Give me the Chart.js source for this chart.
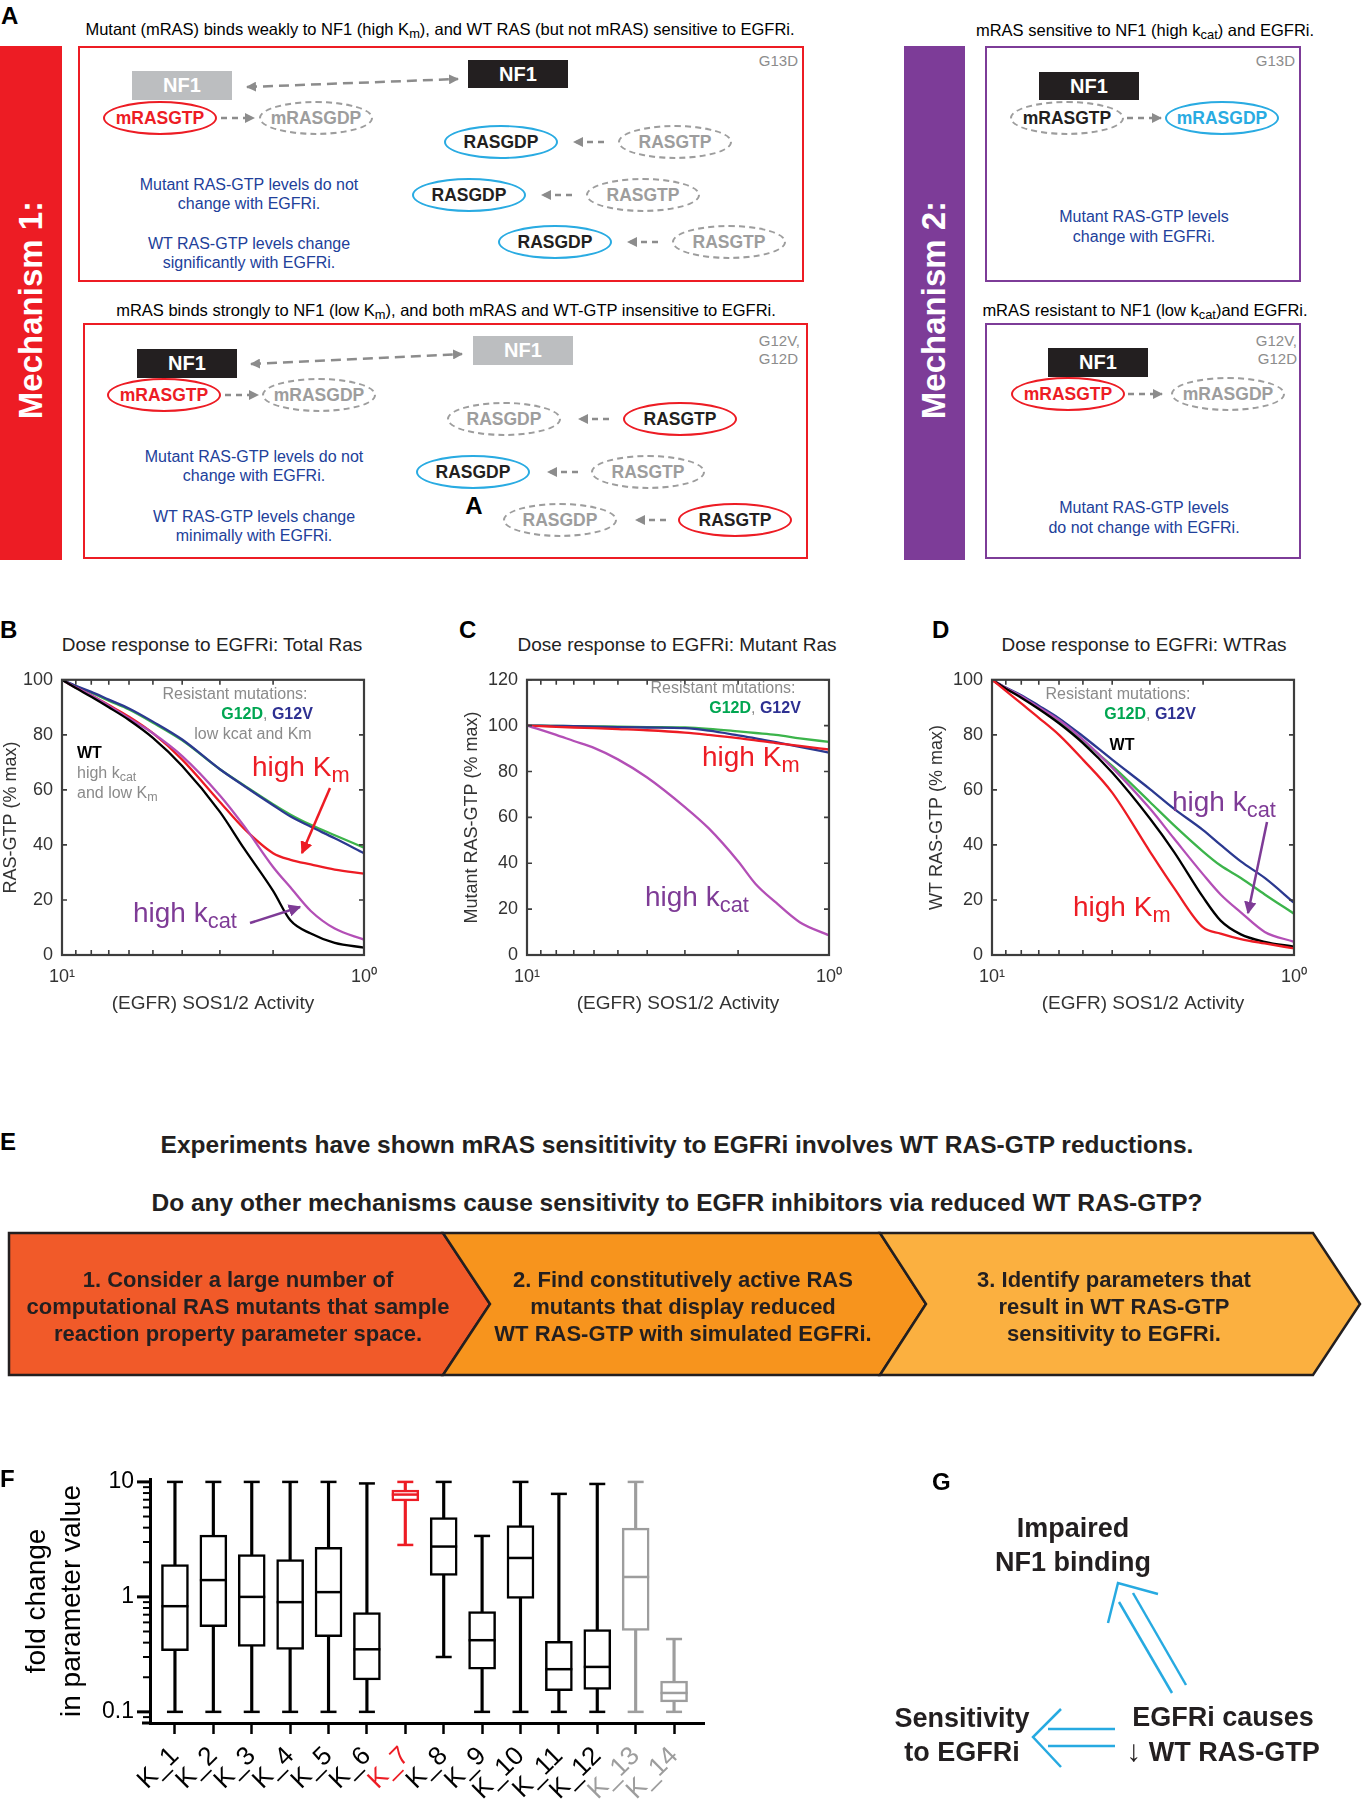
<!DOCTYPE html>
<html><head><meta charset="utf-8">
<title>RAS EGFRi figure</title>
<script src="https://cdn.jsdelivr.net/npm/chart.js@4.4.1/dist/chart.umd.min.js"></script>
<style>
html,body{margin:0;padding:0;background:#fff;}
#page{position:relative;width:1363px;height:1800px;overflow:hidden;font-family:'Liberation Sans',Arial,Helvetica,sans-serif;color:#000;}
.c{position:absolute;white-space:nowrap;transform:translate(-50%,-50%);line-height:1.15;text-align:center;}
.l{position:absolute;white-space:nowrap;transform:translate(0,-50%);line-height:1.15;}
.r{position:absolute;white-space:nowrap;transform:translate(-100%,-50%);line-height:1.15;text-align:right;}
.lab{position:absolute;font-weight:bold;font-size:24px;line-height:1;}
.frame{position:absolute;box-sizing:border-box;border:2.5px solid;}
.bar{position:absolute;}
.mech{position:absolute;color:#fff;font-weight:bold;font-size:33px;white-space:nowrap;transform:translate(-50%,-50%) rotate(-90deg);}
.nf{position:absolute;display:flex;align-items:center;justify-content:center;color:#fff;font-weight:bold;font-size:20px;}
.ell{position:absolute;box-sizing:border-box;border-radius:50%;display:flex;align-items:center;justify-content:center;font-weight:bold;font-size:17.5px;transform:translate(-50%,-50%);width:114px;height:34px;color:#231f20;}
.dash{border:2.5px dashed #9d9d9d;color:#9d9d9d;}
.bl{border:2.5px solid #29abe2;}
.rd{border:2.5px solid #ed1c24;}
.cap{font-size:16.5px;}
.blue{color:#21409a;font-size:16px;}
.ann{font-size:16px;}
.gr{color:#8a8a8a;}
.big{font-size:28px;}
sub{font-size:0.78em;vertical-align:-0.28em;line-height:0;}
.cb{position:absolute;}
.etx{font-weight:bold;font-size:22px;line-height:27px;}
.gtx{font-weight:bold;font-size:27px;line-height:34px;color:#231f20;}
</style></head>
<body><div id="page">

<!-- ============ Panel A ============ -->
<div class="lab" style="left:1px;top:4px;">A</div>
<div class="c cap" style="left:440px;top:29px;">Mutant (mRAS) binds weakly to NF1 (high K<sub>m</sub>), and WT RAS (but not mRAS) sensitive to EGFRi.</div>
<div class="bar" style="left:0;top:46px;width:62px;height:514px;background:#ed1c24;"></div>
<div class="mech" style="left:31px;top:310px;">Mechanism 1:</div>
<div class="frame" style="left:78px;top:46px;width:726px;height:236px;border-color:#ed1c24;"></div>
<div class="r" style="left:798px;top:61px;color:#8c8c8c;font-size:15px;">G13D</div>
<div class="nf" style="left:132px;top:71px;width:100px;height:29px;background:#bcbec0;">NF1</div>
<div class="nf" style="left:468px;top:60px;width:100px;height:28px;background:#231f20;">NF1</div>
<div class="ell rd" style="left:160px;top:118px;color:#ed1c24;">mRASGTP</div>
<div class="ell dash" style="left:316px;top:118px;">mRASGDP</div>
<div class="ell bl" style="left:501px;top:142px;">RASGDP</div>
<div class="ell dash" style="left:675px;top:142px;">RASGTP</div>
<div class="ell bl" style="left:469px;top:195px;">RASGDP</div>
<div class="ell dash" style="left:643px;top:195px;">RASGTP</div>
<div class="ell bl" style="left:555px;top:242px;">RASGDP</div>
<div class="ell dash" style="left:729px;top:242px;">RASGTP</div>
<div class="c blue" style="left:249px;top:194px;line-height:19px;">Mutant RAS-GTP levels do not<br>change with EGFRi.</div>
<div class="c blue" style="left:249px;top:253px;line-height:19px;">WT RAS-GTP levels change<br>significantly with EGFRi.</div>

<div class="c cap" style="left:446px;top:310px;">mRAS binds strongly to NF1 (low K<sub>m</sub>), and both mRAS and WT-GTP insensitive to EGFRi.</div>
<div class="frame" style="left:83px;top:323px;width:725px;height:236px;border-color:#ed1c24;"></div>
<div class="r" style="left:800px;top:350px;color:#8c8c8c;font-size:15px;line-height:18px;text-align:left;">G12V,<br>G12D</div>
<div class="nf" style="left:137px;top:349px;width:100px;height:29px;background:#231f20;">NF1</div>
<div class="nf" style="left:473px;top:336px;width:100px;height:29px;background:#bcbec0;">NF1</div>
<div class="ell rd" style="left:164px;top:395px;color:#ed1c24;">mRASGTP</div>
<div class="ell dash" style="left:319px;top:395px;">mRASGDP</div>
<div class="ell dash" style="left:504px;top:419px;">RASGDP</div>
<div class="ell rd" style="left:680px;top:419px;">RASGTP</div>
<div class="ell bl" style="left:473px;top:472px;">RASGDP</div>
<div class="ell dash" style="left:648px;top:472px;">RASGTP</div>
<div class="c" style="left:474px;top:506px;font-weight:bold;font-size:24px;">A</div>
<div class="ell dash" style="left:560px;top:520px;">RASGDP</div>
<div class="ell rd" style="left:735px;top:520px;">RASGTP</div>
<div class="c blue" style="left:254px;top:466px;line-height:19px;">Mutant RAS-GTP levels do not<br>change with EGFRi.</div>
<div class="c blue" style="left:254px;top:526px;line-height:19px;">WT RAS-GTP levels change<br>minimally with EGFRi.</div>

<div class="c cap" style="left:1145px;top:30px;">mRAS sensitive to NF1 (high k<sub>cat</sub>) and EGFRi.</div>
<div class="bar" style="left:904px;top:46px;width:61px;height:514px;background:#7d3c98;"></div>
<div class="mech" style="left:934px;top:310px;">Mechanism 2:</div>
<div class="frame" style="left:985px;top:46px;width:316px;height:236px;border-color:#7d3c98;"></div>
<div class="r" style="left:1295px;top:61px;color:#8c8c8c;font-size:15px;">G13D</div>
<div class="nf" style="left:1039px;top:72px;width:100px;height:28px;background:#231f20;">NF1</div>
<div class="ell dash" style="left:1067px;top:118px;color:#231f20;">mRASGTP</div>
<div class="ell bl" style="left:1222px;top:118px;color:#29abe2;">mRASGDP</div>
<div class="c blue" style="left:1144px;top:227px;line-height:20px;">Mutant RAS-GTP levels<br>change with EGFRi.</div>

<div class="c cap" style="left:1145px;top:310px;">mRAS resistant to NF1 (low k<sub>cat</sub>)and EGFRi.</div>
<div class="frame" style="left:985px;top:323px;width:316px;height:236px;border-color:#7d3c98;"></div>
<div class="r" style="left:1297px;top:350px;color:#8c8c8c;font-size:15px;line-height:18px;">G12V,<br>G12D</div>
<div class="nf" style="left:1048px;top:348px;width:100px;height:29px;background:#231f20;">NF1</div>
<div class="ell rd" style="left:1068px;top:394px;color:#ed1c24;">mRASGTP</div>
<div class="ell dash" style="left:1228px;top:394px;">mRASGDP</div>
<div class="c blue" style="left:1144px;top:518px;line-height:20px;">Mutant RAS-GTP levels<br>do not change with EGFRi.</div>

<!-- ============ Panels B, C, D ============ -->
<div class="lab" style="left:0;top:618px;">B</div>
<div class="lab" style="left:459px;top:618px;">C</div>
<div class="lab" style="left:932px;top:618px;">D</div>
<div class="c" style="left:212px;top:645px;font-size:19px;color:#222;">Dose response to EGFRi: Total Ras</div>
<div class="c" style="left:677px;top:645px;font-size:19px;color:#222;">Dose response to EGFRi: Mutant Ras</div>
<div class="c" style="left:1144px;top:645px;font-size:19px;color:#222;">Dose response to EGFRi: WTRas</div>

<div class="cb" style="left:0;top:660px;width:400px;height:360px;"><canvas id="chartB" width="400" height="360"></canvas></div>
<div class="cb" style="left:460px;top:660px;width:400px;height:360px;"><canvas id="chartC" width="400" height="360"></canvas></div>
<div class="cb" style="left:920px;top:660px;width:400px;height:360px;"><canvas id="chartD" width="400" height="360"></canvas></div>

<!-- B annotations -->
<div class="c ann gr" style="left:235px;top:694px;">Resistant mutations:</div>
<div class="c ann" style="left:267px;top:714px;font-weight:bold;"><span style="color:#00a651">G12D</span><span class="gr" style="font-weight:normal">, </span><span style="color:#2e3192">G12V</span></div>
<div class="c ann gr" style="left:253px;top:734px;">low kcat and Km</div>
<div class="l ann" style="left:77px;top:753px;font-weight:bold;">WT</div>
<div class="l ann gr" style="left:77px;top:773px;">high k<sub>cat</sub></div>
<div class="l ann gr" style="left:77px;top:793px;">and low K<sub>m</sub></div>
<div class="l big" style="left:252px;top:767px;color:#ed1c24;">high K<sub>m</sub></div>
<div class="l big" style="left:133px;top:913px;color:#7e3b96;">high k<sub>cat</sub></div>
<!-- C annotations -->
<div class="c ann gr" style="left:723px;top:688px;">Resistant mutations:</div>
<div class="c ann" style="left:755px;top:708px;font-weight:bold;"><span style="color:#00a651">G12D</span><span class="gr" style="font-weight:normal">, </span><span style="color:#2e3192">G12V</span></div>
<div class="l big" style="left:702px;top:757px;color:#ed1c24;">high K<sub>m</sub></div>
<div class="l big" style="left:645px;top:897px;color:#7e3b96;">high k<sub>cat</sub></div>
<!-- D annotations -->
<div class="c ann gr" style="left:1118px;top:694px;">Resistant mutations:</div>
<div class="c ann" style="left:1150px;top:714px;font-weight:bold;"><span style="color:#00a651">G12D</span><span class="gr" style="font-weight:normal">, </span><span style="color:#2e3192">G12V</span></div>
<div class="c ann" style="left:1122px;top:745px;font-weight:bold;">WT</div>
<div class="l big" style="left:1172px;top:802px;color:#7e3b96;">high k<sub>cat</sub></div>
<div class="l big" style="left:1073px;top:907px;color:#ed1c24;">high K<sub>m</sub></div>

<!-- ============ Panel E ============ -->
<div class="lab" style="left:0;top:1130px;">E</div>
<div class="c" style="left:677px;top:1145px;font-weight:bold;font-size:24.5px;color:#231f20;">Experiments have shown mRAS sensititivity to EGFRi involves WT RAS-GTP reductions.</div>
<div class="c" style="left:677px;top:1203px;font-weight:bold;font-size:24.5px;color:#231f20;">Do any other mechanisms cause sensitivity to EGFR inhibitors via reduced WT RAS-GTP?</div>
<svg class="cb" style="left:0;top:0;" width="1363" height="1800">
  <polygon points="9,1233 443,1233 490,1304 443,1375 9,1375" fill="#f15a29" stroke="#231f20" stroke-width="2.5" stroke-linejoin="miter"/>
  <polygon points="443,1233 880,1233 926,1304 880,1375 443,1375 490,1304" fill="#f7941d" stroke="#231f20" stroke-width="2.5"/>
  <polygon points="880,1233 1313,1233 1360,1304 1313,1375 880,1375 926,1304" fill="#fbb040" stroke="#231f20" stroke-width="2.5"/>
</svg>
<div class="c etx" style="left:238px;top:1306px;color:#231f20;">1. Consider a large number of<br>computational RAS mutants that sample<br>reaction property parameter space.</div>
<div class="c etx" style="left:683px;top:1306px;color:#231f20;">2. Find constitutively active RAS<br>mutants that display reduced<br>WT RAS-GTP with simulated EGFRi.</div>
<div class="c etx" style="left:1114px;top:1306px;color:#231f20;">3. Identify parameters that<br>result in WT RAS-GTP<br>sensitivity to EGFRi.</div>

<!-- ============ Panel F ============ -->
<div class="lab" style="left:0;top:1467px;">F</div>
<div class="cb" style="left:0;top:1440px;width:720px;height:360px;"><canvas id="chartF" width="720" height="360"></canvas></div>

<!-- ============ Panel G ============ -->
<div class="lab" style="left:932px;top:1470px;">G</div>
<div class="c gtx" style="left:1073px;top:1545px;">Impaired<br>NF1 binding</div>
<div class="c gtx" style="left:962px;top:1735px;">Sensitivity<br>to EGFRi</div>
<div class="c gtx" style="left:1223px;top:1734px;">EGFRi causes<br><span style="font-weight:normal;font-size:30px;">↓</span> WT RAS-GTP</div>

<!-- arrows overlay -->
<svg class="cb" style="left:0;top:0;pointer-events:none;" width="1363" height="1800">
  <defs>
    <marker id="ga" viewBox="0 0 10 10" refX="9" refY="5" markerWidth="4" markerHeight="4" orient="auto-start-reverse"><path d="M0,0 L10,5 L0,10 z" fill="#8c8c8c"/></marker>
    <marker id="ra" viewBox="0 0 10 10" refX="9" refY="5" markerWidth="5" markerHeight="5" orient="auto"><path d="M0,0 L10,5 L0,10 z" fill="#ed1c24"/></marker>
    <marker id="pa" viewBox="0 0 10 10" refX="9" refY="5" markerWidth="5" markerHeight="5" orient="auto"><path d="M0,0 L10,5 L0,10 z" fill="#7e3b96"/></marker>
  </defs>
  <g stroke="#8c8c8c" stroke-width="2.5" fill="none">
    <line x1="247" y1="87" x2="458" y2="79" stroke-dasharray="10 6" marker-start="url(#ga)" marker-end="url(#ga)"/>
    <line x1="221" y1="118" x2="254" y2="118" stroke-dasharray="6 5" marker-end="url(#ga)"/>
    <line x1="604" y1="142" x2="574" y2="142" stroke-dasharray="6 5" marker-end="url(#ga)"/>
    <line x1="572" y1="195" x2="542" y2="195" stroke-dasharray="6 5" marker-end="url(#ga)"/>
    <line x1="658" y1="242" x2="628" y2="242" stroke-dasharray="6 5" marker-end="url(#ga)"/>
    <line x1="251" y1="364" x2="462" y2="354" stroke-dasharray="10 6" marker-start="url(#ga)" marker-end="url(#ga)"/>
    <line x1="225" y1="395" x2="258" y2="395" stroke-dasharray="6 5" marker-end="url(#ga)"/>
    <line x1="609" y1="419" x2="579" y2="419" stroke-dasharray="6 5" marker-end="url(#ga)"/>
    <line x1="578" y1="472" x2="548" y2="472" stroke-dasharray="6 5" marker-end="url(#ga)"/>
    <line x1="666" y1="520" x2="636" y2="520" stroke-dasharray="6 5" marker-end="url(#ga)"/>
    <line x1="1127" y1="118" x2="1161" y2="118" stroke-dasharray="6 5" marker-end="url(#ga)"/>
    <line x1="1128" y1="394" x2="1162" y2="394" stroke-dasharray="6 5" marker-end="url(#ga)"/>
  </g>
  <line x1="330" y1="788" x2="302" y2="853" stroke="#ed1c24" stroke-width="2.5" marker-end="url(#ra)"/>
  <line x1="250" y1="923" x2="300" y2="907" stroke="#7e3b96" stroke-width="2.5" marker-end="url(#pa)"/>
  <line x1="1267" y1="822" x2="1248" y2="913" stroke="#7e3b96" stroke-width="2.5" marker-end="url(#pa)"/>
  <g stroke="#27aae1" stroke-width="2.5" fill="none">
    <line x1="1172" y1="1693" x2="1119" y2="1602"/>
    <line x1="1186" y1="1685" x2="1133" y2="1593"/>
    <polyline points="1108,1623 1118,1583 1158,1594"/>
    <line x1="1115" y1="1729" x2="1048" y2="1729"/>
    <line x1="1115" y1="1746" x2="1048" y2="1746"/>
    <polyline points="1061,1709 1033,1737 1061,1767"/>
  </g>
</svg>

</div>
<script>
// ---------------- data ----------------
const doseX = [10, 9, 8, 7, 6, 5, 4, 3, 2.5, 2, 1.75, 1.5, 1.25, 1];
const doseTickMarks = [1, 2, 3, 4, 5, 6, 7, 8, 9, 10];
const doseTickLabels = [{value: 10, text: '10\u00B9'}, {value: 1, text: '10\u2070'}];

// B: Total Ras (% max)
const totalG12V   = [100, 97.8, 95.6, 92.8, 89.6, 84.8, 78.3, 67.5, 61.5, 54.4, 50.3, 46.6, 42.4, 37.0];
const totalG12D   = [100, 97.6, 95.3, 92.4, 89.2, 84.4, 78.0, 67.5, 61.7, 54.8, 51.0, 47.3, 43.5, 39.0];
const totalHighKm = [100, 97.2, 94.4, 90.8, 86.6, 80.6, 71.0, 55.6, 46.0, 37.0, 34.6, 32.9, 31.0, 29.6];
const totalHighKc = [100, 97.2, 94.4, 90.6, 86.0, 80.6, 72.3, 58.0, 47.0, 32.0, 24.5, 16.0, 9.6, 5.6];
const totalWT     = [100, 97.0, 93.8, 90.0, 85.4, 78.9, 68.7, 52.0, 38.8, 23.3, 12.5, 7.8, 4.4, 2.7];

// C: Mutant Ras (% max)
const mutG12D   = [100, 100, 99.9, 99.8, 99.7, 99.6, 99.4, 99.2, 98.6, 97.5, 96.8, 96.0, 94.5, 92.9];
const mutG12V   = [100, 100, 99.9, 99.8, 99.6, 99.4, 99.2, 98.9, 97.8, 95.8, 94.5, 92.8, 90.8, 88.2];
const mutHighKm = [100, 99.8, 99.5, 99.2, 98.9, 98.5, 98.0, 97.0, 96.0, 94.6, 93.6, 92.4, 91.2, 89.6];
const mutHighKc = [100, 98.2, 96.0, 93.3, 90.3, 85.3, 77.4, 64.5, 55.2, 40.9, 31.0, 22.9, 14.3, 8.6];

// D: WT Ras (% max)
const wtG12V   = [100, 97.2, 94.4, 90.6, 86.0, 79.5, 71.0, 60.3, 53.2, 45.4, 40.0, 34.0, 28.0, 19.0];
const wtG12D   = [100, 96.9, 93.8, 89.7, 84.8, 77.7, 68.7, 55.6, 47.2, 37.6, 32.5, 28.0, 22.0, 15.0];
const wtHighKc = [100, 97.0, 94.0, 90.0, 85.4, 78.3, 68.1, 53.2, 42.4, 29.3, 22.0, 15.5, 8.4, 4.8];
const wtWT     = [100, 96.8, 93.5, 89.4, 84.2, 77.0, 66.3, 49.6, 37.6, 21.0, 12.5, 7.5, 4.8, 3.0];
const wtHighKm = [100, 96.0, 91.4, 86.2, 80.0, 71.0, 59.0, 37.6, 24.5, 10.0, 7.8, 5.8, 4.2, 2.4];

// F: box plot of fold change in parameter value
const fCats = ['K_1','K_2','K_3','K_4','K_5','K_6','K_7','K_8','K_9','K_10','K_11','K_12','K_13','K_14'];
const fMin  = [0.1, 0.1, 0.1, 0.1, 0.1, 0.1, 2.83, 0.30, 0.1, 0.1, 0.1, 0.1, 0.1, 0.1];
const fQ1   = [0.34, 0.55, 0.37, 0.35, 0.45, 0.19, 6.84, 1.54, 0.235, 0.97, 0.153, 0.157, 0.51, 0.122];
const fMed  = [0.83, 1.40, 1.00, 0.90, 1.10, 0.35, 7.76, 2.74, 0.42, 2.18, 0.235, 0.246, 1.49, 0.146];
const fQ3   = [1.91, 3.44, 2.33, 2.11, 2.70, 0.73, 8.47, 4.90, 0.745, 4.17, 0.41, 0.52, 3.96, 0.185];
const fMax  = [10, 10, 10, 10, 10, 9.7, 10, 10, 3.39, 10, 7.87, 9.6, 10, 0.43];
const fTickVals = [0.1, 1, 10];
const fTickText = ['0.1', '1', '10'];
const fMinorTicks = [0.08, 0.09, 0.2, 0.3, 0.4, 0.5, 0.6, 0.7, 0.8, 0.9, 2, 3, 4, 5, 6, 7, 8, 9];

// ---------------- styles ----------------
const fColor = ['#000','#000','#000','#000','#000','#000','#ed1c24','#000','#000','#000','#000','#000','#9d9d9d','#9d9d9d'];
const C_BLUE = '#2b3990', C_GREEN = '#3cb44b', C_RED = '#ed1c24', C_PURP = '#b34fb6', C_BLACK = '#000';

Chart.defaults.font.family = "'Liberation Sans', Arial, Helvetica, sans-serif";
Chart.defaults.animation = false;
Chart.defaults.events = [];
Chart.defaults.plugins.legend.display = false;
Chart.defaults.plugins.tooltip.enabled = false;

const framePlugin = {
  id: 'frameBox',
  afterDatasetsDraw(chart) {
    const {ctx, chartArea: a, scales: {x, y}} = chart;
    ctx.save();
    ctx.strokeStyle = '#3d3d3d';
    ctx.lineWidth = 1.6;
    const L = 5;
    ctx.beginPath();
    doseTickMarks.forEach(v => {
      const p = x.getPixelForValue(v);
      ctx.moveTo(p, a.bottom); ctx.lineTo(p, a.bottom - L);
      ctx.moveTo(p, a.top); ctx.lineTo(p, a.top + L);
    });
    y.ticks.forEach(t => {
      const p = y.getPixelForValue(t.value);
      ctx.moveTo(a.left, p); ctx.lineTo(a.left + L, p);
      ctx.moveTo(a.right, p); ctx.lineTo(a.right - L, p);
    });
    ctx.stroke();
    ctx.lineWidth = 2.2;
    ctx.strokeRect(a.left, a.top, a.right - a.left, a.bottom - a.top);
    ctx.restore();
  }
};

function xTickText(v) {
  const t = doseTickLabels.find(d => Math.abs(d.value - v) < 1e-6);
  return t ? t.text : '';
}

function doseChart(id, o) {
  return new Chart(document.getElementById(id), {
    type: 'line',
    data: {
      datasets: o.series.map(s => ({
        data: doseX.map((x, i) => ({x: x, y: s.values[i]})),
        borderColor: s.color, borderWidth: 2.3, pointRadius: 0, fill: false,
        cubicInterpolationMode: 'monotone'
      }))
    },
    options: {
      responsive: false,
      layout: {padding: {top: 16, right: o.padRight, left: 0, bottom: 5}},
      scales: {
        x: {
          type: 'logarithmic', reverse: true, min: 1, max: 10,
          afterBuildTicks: s => { s.ticks = doseTickLabels.map(d => ({value: d.value, major: true})); },
          grid: {display: false, drawTicks: false}, border: {display: false},
          ticks: {autoSkip: false, maxRotation: 0, minRotation: 0, padding: 11, color: '#333', font: {size: 18}, callback: v => xTickText(v)},
          title: {display: true, text: '(EGFR) SOS1/2 Activity', color: '#333', font: {size: 19}, padding: {top: 0, bottom: 0}},
          afterFit: s => { s.height = 60; }
        },
        y: {
          min: 0, max: o.yMax,
          grid: {display: false, drawTicks: false}, border: {display: false},
          ticks: {stepSize: 20, padding: 9, color: '#333', font: {size: 18}},
          title: {display: true, text: o.yTitle, color: '#333', font: {size: 18}, padding: {top: o.titlePad, bottom: 0}},
          afterFit: s => { s.width = o.yWidth; }
        }
      }
    },
    plugins: [framePlugin]
  });
}

doseChart('chartB', {
  yMax: 100, yTitle: 'RAS-GTP (% max)', yWidth: 62, padRight: 36, titlePad: 0,
  series: [
    {values: totalWT, color: C_BLACK},
    {values: totalHighKc, color: C_PURP},
    {values: totalHighKm, color: C_RED},
    {values: totalG12V, color: C_BLUE},
    {values: totalG12D, color: C_GREEN}
  ]
});
doseChart('chartC', {
  yMax: 120, yTitle: 'Mutant RAS-GTP (% max)', yWidth: 67, padRight: 31, titlePad: 1,
  series: [
    {values: mutHighKc, color: C_PURP},
    {values: mutHighKm, color: C_RED},
    {values: mutG12V, color: C_BLUE},
    {values: mutG12D, color: C_GREEN}
  ]
});
doseChart('chartD', {
  yMax: 100, yTitle: 'WT RAS-GTP (% max)', yWidth: 72, padRight: 26, titlePad: 6,
  series: [
    {values: wtHighKm, color: C_RED},
    {values: wtWT, color: C_BLACK},
    {values: wtHighKc, color: C_PURP},
    {values: wtG12D, color: C_GREEN},
    {values: wtG12V, color: C_BLUE}
  ]
});

// ---------------- Panel F ----------------
const fTickPlugin = {
  id: 'fTicks',
  afterDraw(chart) {
    const y = chart.scales.y, a = chart.chartArea, ctx = chart.ctx;
    ctx.save();
    ctx.strokeStyle = '#000';
    const draw = (v, len, w) => {
      const p = y.getPixelForValue(v);
      ctx.lineWidth = w;
      ctx.beginPath(); ctx.moveTo(a.left - len, p); ctx.lineTo(a.left, p); ctx.stroke();
    };
    fMinorTicks.forEach(v => draw(v, 7, 2));
    fTickVals.forEach(v => draw(v, 13, 3));
    // x-axis line extends slightly left of the y axis
    ctx.lineWidth = 3;
    ctx.beginPath(); ctx.moveTo(a.left - 8, a.bottom); ctx.lineTo(a.left, a.bottom); ctx.stroke();
    ctx.restore();
  }
};

const capPts = [], capCols = [];
fCats.forEach((c, i) => {
  capPts.push({x: i + 1, y: fMin[i]}); capCols.push(fColor[i]);
  capPts.push({x: i + 1, y: fMax[i]}); capCols.push(fColor[i]);
});

new Chart(document.getElementById('chartF'), {
  type: 'bar',
  data: {
    datasets: [
      {type: 'line', order: 0, showLine: false, data: fCats.map((c, i) => ({x: i + 1, y: fMed[i]})),
       pointStyle: 'line', pointRadius: 13.5, pointBorderWidth: 2.5, pointBorderColor: fColor, pointBackgroundColor: fColor, clip: false},
      {type: 'line', order: 0, showLine: false, data: capPts,
       pointStyle: 'line', pointRadius: 8, pointBorderWidth: 2.5, pointBorderColor: capCols, pointBackgroundColor: capCols, clip: false},
      {type: 'bar', order: 1, grouped: false, data: fCats.map((c, i) => ({x: i + 1, y: [fQ1[i], fQ3[i]]})),
       backgroundColor: '#fff', borderColor: fColor, borderWidth: 2.5, borderSkipped: false, barThickness: 27},
      {type: 'bar', order: 2, grouped: false, data: fCats.map((c, i) => ({x: i + 1, y: [fMin[i], fMax[i]]})),
       backgroundColor: fColor, borderWidth: 0, barThickness: 2.5}
    ]
  },
  options: {
    responsive: false,
    layout: {padding: {top: 39, right: 15, left: 0, bottom: 0}},
    scales: {
      x: {
        type: 'linear', min: 0.35, max: 14.78, offset: false,
        afterBuildTicks: s => { s.ticks = fCats.map((c, i) => ({value: i + 1})); },
        ticks: {autoSkip: false, minRotation: 45, maxRotation: 45, padding: 7,
                font: {size: 26}, color: ctx => (ctx.tick ? fColor[Math.round(ctx.tick.value) - 1] : '#000') || '#000',
                callback: v => fCats[Math.round(v) - 1] || ''},
        grid: {display: true, offset: false, drawOnChartArea: false, drawTicks: true, tickLength: 11, tickWidth: 2.5, tickColor: '#000'},
        border: {display: true, width: 3, color: '#000'},
        afterFit: s => { s.height = 77; }
      },
      y: {
        type: 'logarithmic', min: 0.08, max: 10.6,
        afterBuildTicks: s => { s.ticks = fTickVals.map(v => ({value: v, major: true})); },
        ticks: {autoSkip: false, padding: 16, font: {size: 23}, color: '#000',
                callback: v => { const k = fTickVals.findIndex(t => Math.abs(Math.log10(t) - Math.log10(v)) < 1e-6); return k >= 0 ? fTickText[k] : ''; }},
        grid: {display: false, drawTicks: false},
        border: {display: true, width: 3, color: '#000'},
        title: {display: true, text: ['fold change', 'in parameter value'], color: '#000', font: {size: 28, lineHeight: 1.25}, padding: {top: 20, bottom: 0}},
        afterFit: s => { s.width = 150; }
      }
    }
  },
  plugins: [fTickPlugin]
});
</script>
</body></html>
